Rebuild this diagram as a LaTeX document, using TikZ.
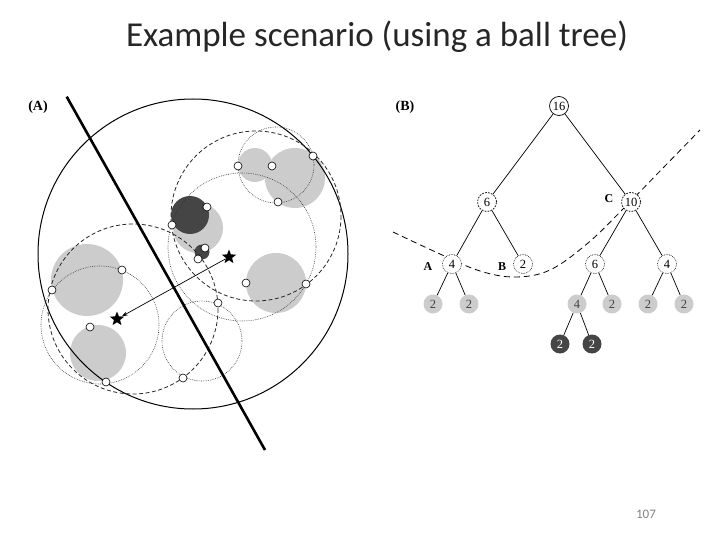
\documentclass[tikz,border=0pt]{standalone}
\usepackage{fontspec}
\setmainfont{Liberation Serif}
\newfontfamily\titlefont{Carlito}
\usetikzlibrary{shapes.geometric,arrows.meta}
\definecolor{lgray}{gray}{0.80}
\definecolor{dgray}{gray}{0.27}
\tikzset{
  ballfill/.style={fill=lgray, draw=none},
  darkfill/.style={fill=dgray, draw=none},
  dashball/.style={draw=black!85, line width=0.8pt, dash pattern=on 4pt off 2.5pt},
  dotball/.style={draw=black!80, line width=0.6pt, dash pattern=on 0.7pt off 1.1pt},
  pt/.style={circle, draw=black, fill=white, line width=0.6pt, minimum size=8pt, inner sep=0pt},
  starnode/.style={star, star points=5, star point ratio=2.3, fill=black, draw=none, minimum size=15pt, inner sep=0pt},
  tn/.style={circle, fill=white, minimum size=19pt, inner sep=0pt, font=\fontsize{12.5}{12.5}\selectfont},
  tsolid/.style={tn, draw=black, line width=0.7pt},
  tdash/.style={tn, draw=black, line width=0.7pt, dash pattern=on 1.8pt off 1.2pt},
  tdot/.style={tn, draw=black, line width=0.6pt, dash pattern=on 0.7pt off 1pt},
  tgray/.style={tn, fill=lgray, text=black!75},
  tdark/.style={tn, fill=dgray, text=white},
  lab/.style={font=\bfseries\fontsize{12}{12}\selectfont},
  plab/.style={font=\bfseries\fontsize{14}{14}\selectfont},
  edge/.style={line width=0.7pt},
}
\begin{document}
\begin{tikzpicture}[x=1pt,y=-1pt]
\useasboundingbox (0,0) rectangle (720,540);
% title and page number
\node[text=black!85] (title) at (377,37) {\titlefont\fontsize{35}{38}\selectfont Example scenario (using a ball tree)};
\node[text=black!50] (pnum) at (646,514) {\titlefont\fontsize{13}{13}\selectfont 107};

% ---------- Panel A ----------
\node[plab] (labA) at (38,107) {(A)};
% gray balls
\fill[ballfill] (255,165) circle (17);
\fill[ballfill] (295,178) circle (30);
\fill[ballfill] (198,228) circle (25);
\fill[darkfill] (190,215) circle (19);
\fill[darkfill] (202,252) circle (7.5);
\fill[ballfill] (276,283) circle (30);
\fill[ballfill] (87,280) circle (36);
\fill[ballfill] (98,353) circle (28);
% ball outlines
\draw[line width=1pt] (193,254) circle (155);
\draw[dashball] (256,216) circle (85);
\draw[dashball] (133,309) circle (85);
\draw[dotball] (276,165) circle (38);
\draw[dotball] (242,247) circle (74);
\draw[dotball] (100,325) circle (59);
\draw[dotball] (202,341) circle (40);
% separating line
\coordinate (ls) at (66.7,96.7);
\coordinate (le) at (265,450);
\draw[line width=2.6pt] (ls) -- (le);
% stars and arrow
\node[starnode] (q1) at (229,257) {};
\node[starnode] (q2) at (117,319) {};
\draw[line width=0.7pt, -{Stealth[length=6pt,width=4pt]}] (q1) -- (q2);
% points
\node[pt] (p1) at (238,166) {};
\node[pt] (p2) at (272,166) {};
\node[pt] (p3) at (313,156) {};
\node[pt] (p4) at (278,202) {};
\node[pt] (p5) at (207,207) {};
\node[pt] (p6) at (172,225) {};
\node[pt] (p7) at (205,248) {};
\node[pt] (p8) at (198,259) {};
\node[pt] (p9) at (246,283) {};
\node[pt] (p10) at (306,284) {};
\node[pt] (p11) at (52,290) {};
\node[pt] (p12) at (122,270) {};
\node[pt] (p13) at (90,327) {};
\node[pt] (p14) at (106,382) {};
\node[pt] (p15) at (218,303) {};
\node[pt] (p16) at (183,378) {};

% ---------- Panel B ----------
\node[plab] (labB) at (405,107) {(B)};
\draw[line width=0.8pt, dash pattern=on 6pt off 4pt]
  plot[smooth, tension=0.6] coordinates {(393,232) (440,254) (480,271) (515,277) (550,270) (588,243) (624,208) (662,169) (700,130)};
\node[tsolid] (n16) at (559,106) {16};
\node[tdash] (n6) at (487,202) {6};
\node[tdash] (n10) at (631,202) {10};
\node[tdot] (nA) at (452,264) {4};
\node[tdot] (nB) at (523,264) {2};
\node[tdot] (nR6) at (595,264) {6};
\node[tdot] (nR4) at (667,264) {4};
\node[tgray] (g1) at (433,304) {2};
\node[tgray] (g2) at (469,304) {2};
\node[tgray] (g3) at (577,304) {4};
\node[tgray] (g4) at (612,304) {2};
\node[tgray] (g5) at (648,304) {2};
\node[tgray] (g6) at (684,304) {2};
\node[tdark] (d1) at (560,344) {2};
\node[tdark] (d2) at (592,344) {2};
\node[lab] (lA) at (428,267) {A};
\node[lab] (lB) at (502,267) {B};
\node[lab] (lC) at (609,199) {C};
\draw[edge] (n16) -- (n6);
\draw[edge] (n16) -- (n10);
\draw[edge] (n6) -- (nA);
\draw[edge] (n6) -- (nB);
\draw[edge] (n10) -- (nR6);
\draw[edge] (n10) -- (nR4);
\draw[edge] (nA) -- (g1);
\draw[edge] (nA) -- (g2);
\draw[edge] (nR6) -- (g3);
\draw[edge] (nR6) -- (g4);
\draw[edge] (nR4) -- (g5);
\draw[edge] (nR4) -- (g6);
\draw[edge] (g3) -- (d1);
\draw[edge] (g3) -- (d2);
\end{tikzpicture}
\end{document}
